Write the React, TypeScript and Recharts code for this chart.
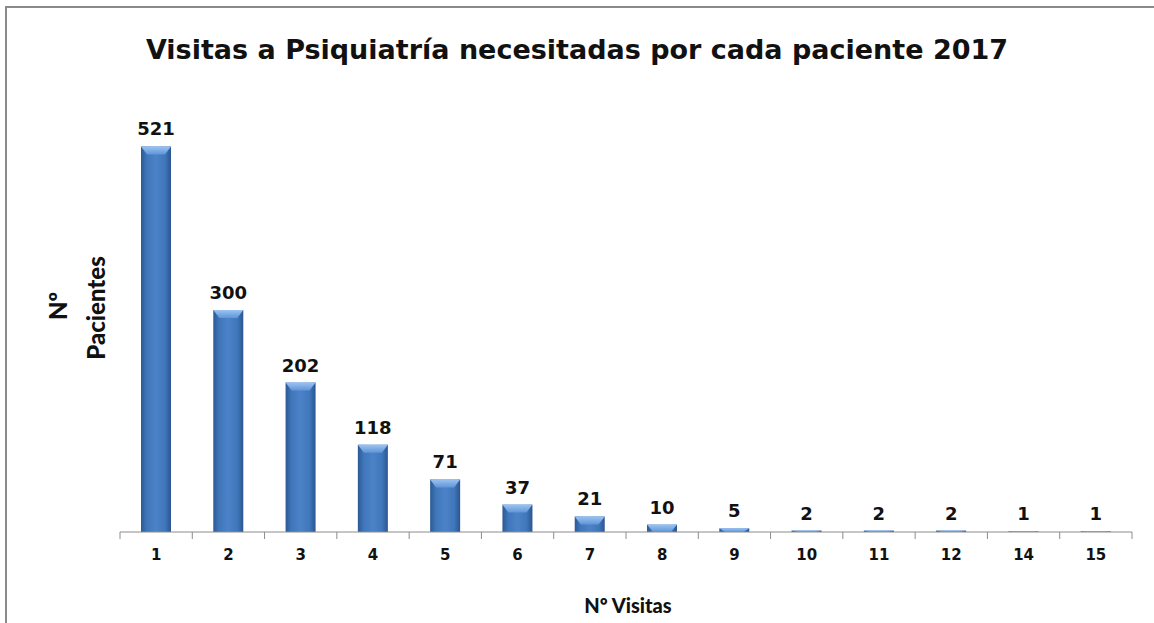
import { BarChart, Bar, XAxis, YAxis, LabelList } from "recharts";

const visitas = ["1", "2", "3", "4", "5", "6", "7", "8", "9", "10", "11", "12", "14", "15"];
const pacientes = [521, 300, 202, 118, 71, 37, 21, 10, 5, 2, 2, 2, 1, 1];

const data = visitas.map((v, i) => ({ visitas: v, pacientes: pacientes[i] }));

const W = 1154;
const H = 623;
const MARGIN = { top: 88, right: 22, left: 120, bottom: 61 };
const BAND = (W - MARGIN.left - MARGIN.right) / visitas.length;

const CylBar = (props: any) => {
  const { x, y, width, height } = props;
  if (!height || height <= 0) return null;
  const bevel = Math.min(8, height);
  const inset = Math.min(6, width / 4);
  return (
    <g>
      <rect x={x} y={y} width={width} height={height} fill="url(#barGrad)" />
      <polygon
        points={`${x},${y} ${x + width},${y} ${x + width - inset},${y + bevel} ${x + inset},${y + bevel}`}
        fill="url(#topGrad)"
      />
    </g>
  );
};

const Tick = (props: any) => {
  const { x, y, payload, index } = props;
  const half = BAND / 2;
  return (
    <g>
      <line x1={x - half} y1={y - 8} x2={x - half} y2={y - 1} stroke="#8c8c8c" />
      {index === visitas.length - 1 && (
        <line x1={x + half} y1={y - 8} x2={x + half} y2={y - 1} stroke="#8c8c8c" />
      )}
      <text
        x={x}
        y={y + 20}
        textAnchor="middle"
        fontFamily="DejaVu Sans"
        fontWeight="bold"
        fontSize={15}
        fill="#111"
      >
        {payload.value}
      </text>
    </g>
  );
};

export default function App() {
  return (
    <div
      style={{
        position: "absolute",
        left: 0,
        top: 0,
        width: W,
        height: H,
        background: "#fff",
        overflow: "hidden",
      }}
    >
      <div
        style={{
          position: "absolute",
          left: 5,
          top: 6,
          width: W + 20,
          height: H + 20,
          borderTop: "2px solid #8a8a8a",
          borderLeft: "2px solid #8a8a8a",
        }}
      />
      <div
        style={{
          position: "absolute",
          left: 0,
          top: 34,
          width: W,
          textAlign: "center",
          fontFamily: "DejaVu Sans",
          fontWeight: "bold",
          fontSize: 27,
          color: "#111",
        }}
      >
        Visitas a Psiquiatría necesitadas por cada paciente 2017
      </div>
      <div
        style={{
          position: "absolute",
          left: 0,
          top: 0,
          fontFamily: "Lato",
          fontWeight: 900,
          fontSize: 24,
          color: "#111",
        }}
      >
        <div style={{ position: "absolute", left: 57, top: 306, transform: "translate(-50%, -50%) rotate(-90deg)", whiteSpace: "nowrap" }}>
          Nº
        </div>
        <div style={{ position: "absolute", left: 95, top: 308, transform: "translate(-50%, -50%) rotate(-90deg)", whiteSpace: "nowrap" }}>
          Pacientes
        </div>
        <div style={{ position: "absolute", left: 628, top: 605, transform: "translate(-50%, -50%)", whiteSpace: "nowrap", fontSize: 20 }}>
          Nº Visitas
        </div>
      </div>
      <div style={{ position: "absolute", left: 0, top: 0 }}>
        <BarChart width={W} height={H} data={data} margin={MARGIN}>
          <defs>
            <linearGradient id="barGrad" x1="0" y1="0" x2="1" y2="0">
              <stop offset="0%" stopColor="#2c5a94" />
              <stop offset="20%" stopColor="#4077bb" />
              <stop offset="50%" stopColor="#4c83c8" />
              <stop offset="80%" stopColor="#4077bb" />
              <stop offset="100%" stopColor="#2a5690" />
            </linearGradient>
            <linearGradient id="topGrad" x1="0" y1="0" x2="0" y2="1">
              <stop offset="0%" stopColor="#9cc3f2" />
              <stop offset="100%" stopColor="#5f95d8" />
            </linearGradient>
          </defs>
          <XAxis
            dataKey="visitas"
            height={30}
            axisLine={{ stroke: "#8c8c8c" }}
            tickLine={false}
            tick={<Tick />}
            interval={0}
          />
          <YAxis hide domain={[0, 600]} />
          <Bar dataKey="pacientes" barSize={30} shape={<CylBar />} isAnimationActive={false}>
            <LabelList
              dataKey="pacientes"
              position="top"
              offset={11}
              fill="#111"
              fontFamily="DejaVu Sans"
              fontWeight="bold"
              fontSize={18}
            />
          </Bar>
        </BarChart>
      </div>
    </div>
  );
}
